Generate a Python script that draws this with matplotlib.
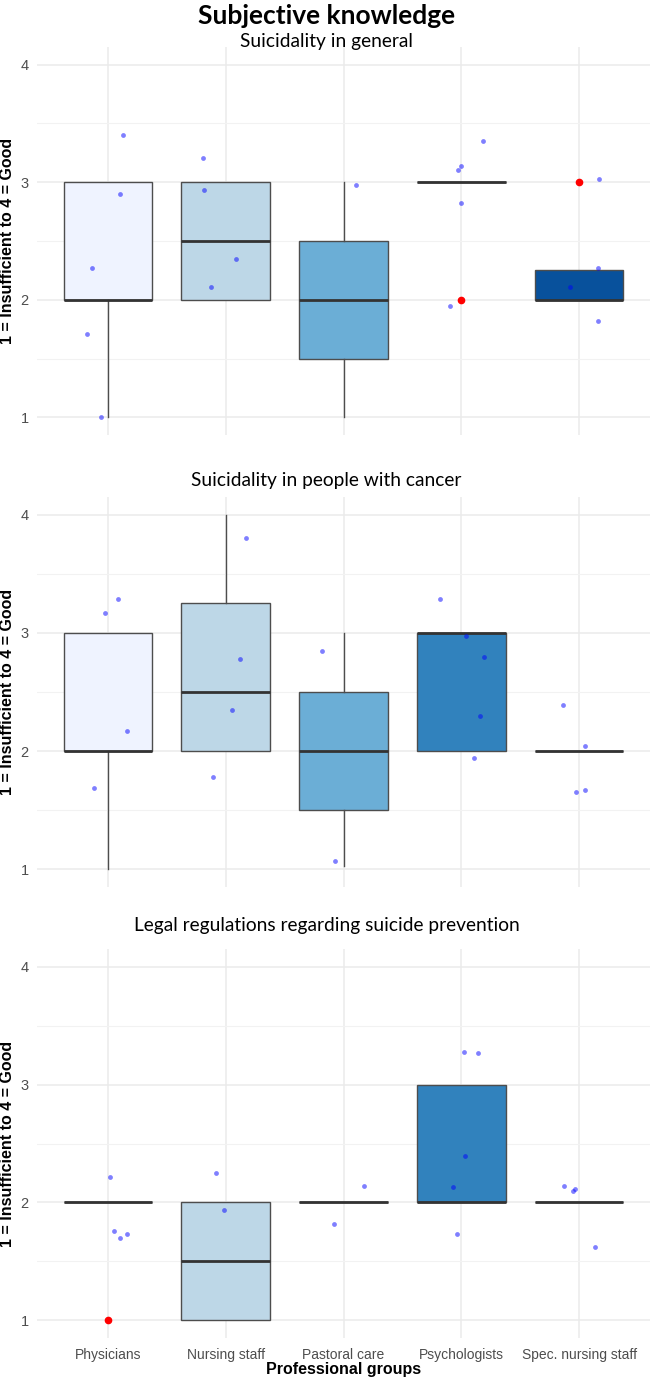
import matplotlib
matplotlib.use("Agg")
import matplotlib.pyplot as plt
import numpy as np

# categories and panels
groups = ["Physicians", "Nursing staff", "Pastoral care", "Psychologists", "Spec. nursing staff"]
panel_titles = ["Suicidality in general",
                "Suicidality in people with cancer",
                "Legal regulations regarding suicide prevention"]
box_colors = ["#EFF3FF", "#BDD7E7", "#6BAED6", "#3182BD", "#08519C"]

# box statistics (one list per panel)
q1_1 = [2, 2, 1.5, 3, 2]
med_1 = [2, 2.5, 2, 3, 2]
q3_1 = [3, 3, 2.5, 3, 2.25]
wlo_1 = [1, 2, 1, 3, 2]
whi_1 = [3, 3, 3, 3, 2.25]
fliers_1 = [[], [], [], [2], [3]]

q1_2 = [2, 2, 1.5, 2, 2]
med_2 = [2, 2.5, 2, 3, 2]
q3_2 = [3, 3.25, 2.5, 3, 2]
wlo_2 = [1, 2, 1.03, 2, 2]
whi_2 = [3, 4, 3, 3, 2]
fliers_2 = [[], [], [], [], []]

q1_3 = [2, 1, 2, 2, 2]
med_3 = [2, 1.5, 2, 2, 2]
q3_3 = [2, 2, 2, 3, 2]
wlo_3 = [2, 1, 2, 2, 2]
whi_3 = [2, 2, 2, 3, 2]
fliers_3 = [[1], [], [], [], []]

# jittered points: group index, horizontal jitter, value
pts_grp_1 = [0, 0, 0, 0, 0, 1, 1, 1, 1, 2, 3, 3, 3, 3, 3, 4, 4, 4, 4]
pts_jit_1 = [0.13, 0.10, -0.13, -0.18, -0.06, -0.19, -0.18, 0.09, -0.12, 0.11,
             0.18, 0.00, -0.03, 0.00, -0.10, 0.17, 0.16, -0.08, 0.16]
pts_val_1 = [3.40, 2.90, 2.27, 1.71, 1.00, 3.21, 2.93, 2.35, 2.11, 2.98,
             3.35, 3.14, 3.10, 2.82, 1.95, 3.03, 2.27, 2.11, 1.82]

pts_grp_2 = [0, 0, 0, 0, 1, 1, 1, 1, 2, 2, 3, 3, 3, 3, 3, 4, 4, 4, 4]
pts_jit_2 = [0.09, -0.02, 0.16, -0.12, 0.17, 0.12, 0.05, -0.11, -0.18, -0.07,
             -0.18, 0.04, 0.19, 0.16, 0.11, -0.14, 0.05, 0.05, -0.03]
pts_val_2 = [3.29, 3.17, 2.17, 1.69, 3.80, 2.78, 2.35, 1.78, 2.85, 1.07,
             3.29, 2.97, 2.80, 2.30, 1.94, 2.39, 2.04, 1.67, 1.65]

pts_grp_3 = [0, 0, 0, 0, 1, 1, 2, 2, 3, 3, 3, 3, 3, 4, 4, 4, 4]
pts_jit_3 = [0.02, 0.05, 0.10, 0.16, -0.08, -0.01, 0.17, -0.08,
             0.02, 0.14, 0.03, -0.07, -0.04, -0.13, -0.04, -0.05, 0.13]
pts_val_3 = [2.22, 1.76, 1.70, 1.73, 2.25, 1.94, 2.14, 1.82,
             3.28, 3.27, 2.39, 2.13, 1.73, 2.14, 2.11, 2.10, 1.62]

panels = [
    (q1_1, med_1, q3_1, wlo_1, whi_1, fliers_1, pts_grp_1, pts_jit_1, pts_val_1),
    (q1_2, med_2, q3_2, wlo_2, whi_2, fliers_2, pts_grp_2, pts_jit_2, pts_val_2),
    (q1_3, med_3, q3_3, wlo_3, whi_3, fliers_3, pts_grp_3, pts_jit_3, pts_val_3),
]

W, H = 653, 1381
fig = plt.figure(figsize=(W / 100, H / 100), dpi=100)

# axes boxes in pixels (top, bottom)
ax_rows = [(47, 435), (497, 887), (949, 1338)]
title_y = [42, 481, 925]
left_px, right_px = 37, 650

title_font = "Lato"
body_font = "Liberation Sans"

fig.text(0.5, 1 - 16 / H, "Subjective knowledge", ha="center", va="center",
         fontsize=19, fontweight="bold", family=title_font)

for i, (q1, med, q3, wlo, whi, fl, pg, pj, pv) in enumerate(panels):
    top, bot = ax_rows[i]
    ax = fig.add_axes([left_px / W, 1 - bot / H, (right_px - left_px) / W, (bot - top) / H])
    pos = np.arange(len(groups))

    stats = []
    for k in range(len(groups)):
        stats.append(dict(med=med[k], q1=q1[k], q3=q3[k], whislo=wlo[k],
                          whishi=whi[k], fliers=fl[k]))
    bp = ax.bxp(stats, positions=pos, widths=0.75, patch_artist=True, showcaps=False,
                boxprops=dict(edgecolor="#4D4D4D", linewidth=1.0),
                medianprops=dict(color="#333333", linewidth=2.0),
                whiskerprops=dict(color="#4D4D4D", linewidth=1.0),
                flierprops=dict(marker="o", markerfacecolor="red", markeredgecolor="red",
                                markersize=4.5))
    for patch, c in zip(bp["boxes"], box_colors):
        patch.set_facecolor(c)

    ax.scatter(np.array(pg) + np.array(pj), pv, s=12, color="blue", alpha=0.5,
               linewidths=0, zorder=4)

    ax.set_xlim(-0.6, 4.6)
    ax.set_ylim(0.85, 4.15)
    ax.set_yticks([1, 2, 3, 4])
    ax.set_yticks([1.5, 2.5, 3.5], minor=True)
    ax.set_xticks(pos)
    ax.grid(True, which="major", color="#EBEBEB", linewidth=1.1)
    ax.grid(True, which="minor", axis="y", color="#F2F2F2", linewidth=0.8)
    ax.set_axisbelow(True)
    for s in ax.spines.values():
        s.set_visible(False)
    ax.tick_params(which="both", length=0)
    ax.tick_params(axis="y", pad=6, labelsize=10.5, labelcolor="#4D4D4D")
    for t in ax.get_yticklabels():
        t.set_family(body_font)

    if i == 2:
        ax.set_xticklabels(groups, fontsize=10, color="#4D4D4D", family=body_font)
        ax.tick_params(axis="x", pad=7)
        ax.set_xlabel("Professional groups", fontsize=11.5, fontweight="bold",
                      family=body_font, labelpad=0)
    else:
        ax.set_xticklabels([])

    ax.set_ylabel("1 = Insufficient to 4 = Good", fontsize=11.5, fontweight="bold",
                  family=body_font)
    # label's right edge sits about 15 px from the figure's left edge
    ax.yaxis.set_label_coords((15 - left_px) / (right_px - left_px), 0.5)

    fig.text(0.5, 1 - title_y[i] / H, panel_titles[i], ha="center", va="center",
             fontsize=13.8, family=title_font)

fig.savefig("out.png", dpi=100)
